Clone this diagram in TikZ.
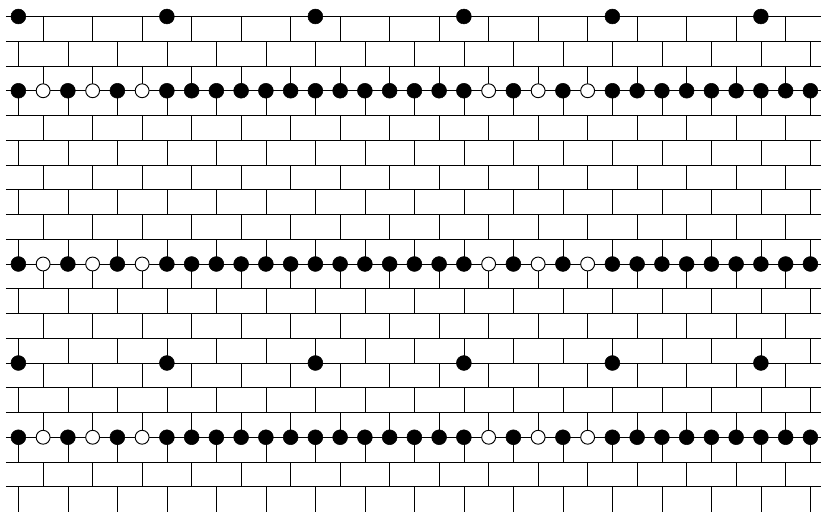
\documentclass[tikz,border=0pt]{standalone}
\begin{document}
\begin{tikzpicture}[x=1cm,y=-1cm,
  brick/.style={line width=0.85pt,draw=black},
  fulldot/.style={circle,fill=black,draw=black,line width=0.6pt,inner sep=0pt,minimum size=0.6cm},
  opendot/.style={circle,fill=white,draw=black,line width=1.1pt,inner sep=0pt,minimum size=0.56cm}]
\useasboundingbox (-0.2424,-0.6667) rectangle (32.929,20.02);
\begin{scope}
\clip (-0.2424,-0.6667) rectangle (32.929,20.02);
\foreach \k in {0,...,19} {
  \draw[brick] (0,\k) -- (33.5,\k);
}
\foreach \k in {0,2,...,18} {
  \foreach \x in {1.5,3.5,...,31.5} {
    \draw[brick] (\x,\k) -- (\x,\k+1);
  }
}
\foreach \k in {1,3,...,17} {
  \foreach \x in {0.5,2.5,...,32.5} {
    \draw[brick] (\x,\k) -- (\x,\k+1);
  }
}
\foreach \x in {0.5,2.5,...,32.5} {
  \draw[brick] (\x,19) -- (\x,20.5);
}
\end{scope}
\foreach \k in {0,14} {
  \foreach \j in {0,6,...,30} {
    \node[fulldot] (d-\k-\j) at (\j+0.5,\k) {};
  }
}
\foreach \k in {3,10,17} {
  \foreach \j in {0,2,4,6,7,8,9,10,11,12,13,14,15,16,17,18,20,22,24,25,26,27,28,29,30,31,32} {
    \node[fulldot] (d-\k-\j) at (\j+0.5,\k) {};
  }
  \foreach \j in {1,3,5,19,21,23} {
    \node[opendot] (d-\k-\j) at (\j+0.5,\k) {};
  }
}
\end{tikzpicture}
\end{document}
